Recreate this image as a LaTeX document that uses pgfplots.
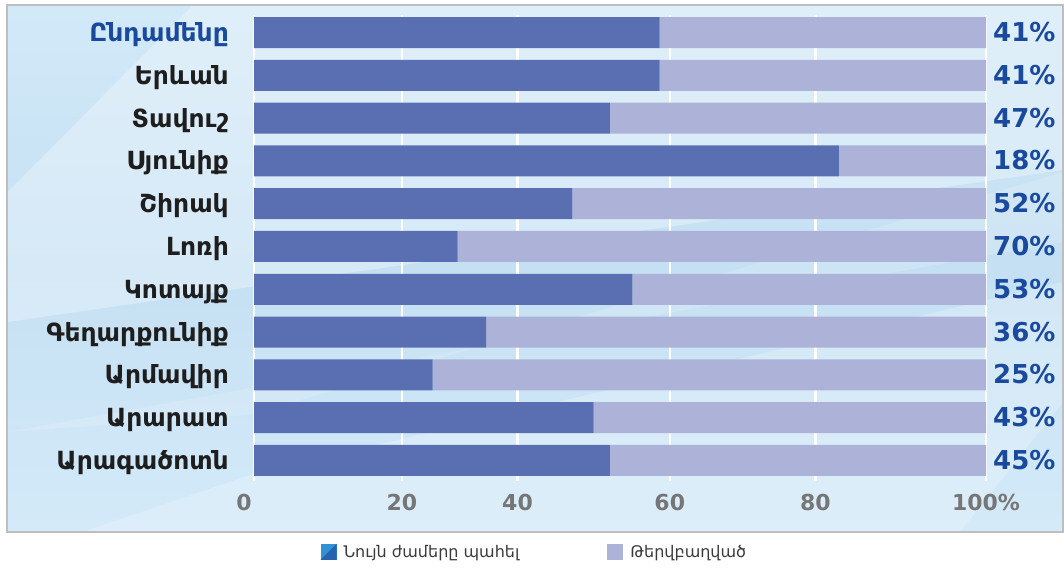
\documentclass[border=0pt]{standalone}
\usepackage{pgfplots}
\pgfplotsset{compat=1.18}
\usepackage{pgfplotstable}
\usepackage{fontspec}
\setmainfont{DejaVu Sans}

\definecolor{darkbar}{RGB}{90,111,178}
\definecolor{lightbar}{RGB}{173,179,216}
\definecolor{labelblue}{RGB}{26,74,158}
\definecolor{tickgray}{RGB}{118,118,118}
\definecolor{catblack}{RGB}{30,30,30}
\definecolor{legtext}{RGB}{58,58,58}
\definecolor{bgtop}{RGB}{210,233,248}
\definecolor{bgmid}{RGB}{197,224,243}
\definecolor{bgbot}{RGB}{212,234,249}
\definecolor{legA}{RGB}{51,145,213}
\definecolor{legB}{RGB}{37,99,175}

% y = row from the bottom (0 = Արագածոտն ... 10 = Ընդամենը)
\pgfplotstableread{
y  dark  light
0  48.6  51.4
1  46.4  53.6
2  24.4  75.6
3  31.7  68.3
4  51.7  48.3
5  27.8  72.2
6  43.5  56.5
7  79.9  20.1
8  48.6  51.4
9  55.4  44.6
10 55.4  44.6
}\shares

\pgfplotsset{
  rowaxis/.style={
    at={(254pt,91pt)}, anchor=south west,
    scale only axis, width=732pt, height=466pt,
    xmin=0, xmax=100, ymin=-0.48, ymax=10.41,
    axis line style={draw=none}, tick style={draw=none},
    ytick={0,...,10},
  }
}

\begin{document}
\begin{tikzpicture}[x=1pt,y=1pt]
\path[use as bounding box] (0,0) rectangle (1064,572);
% background panel
\shade[top color=bgtop, bottom color=bgbot, middle color=bgmid] (7,40) rectangle (1063,567);
\fill[white,opacity=0.30] (7,379) -- (193,567) -- (1063,567) -- (1063,402) -- (7,250) -- cycle;
\fill[white,opacity=0.22] (83,40) -- (250,97) -- (1063,290) -- (1063,170) -- (960,40) -- cycle;
\fill[white,opacity=0.15] (7,140) -- (250,157) -- (1063,400) -- (1063,330) -- cycle;

\begin{axis}[rowaxis,
  xbar stacked, bar width=31pt,
  xtick={20.2,36,56.8,76.7,100},
  xticklabels={20,40,60,80,100\%},
  extra x ticks={0}, extra x tick labels={0},
  extra x tick style={grid=major, xticklabel style={xshift=-10pt}},
  xmajorgrids, major grid style={white, line width=2.5pt},
  xticklabel style={font=\fontsize{22}{26}\selectfont\bfseries, text=tickgray,
    anchor=base, inner sep=0pt, yshift=-30pt},
  /pgf/number format/assume math mode=true,
  yticklabels={Արագածոտն,Արարատ,Արմավիր,Գեղարքունիք,Կոտայք,Լոռի,Շիրակ,
    Սյունիք,Տավուշ,Երևան,{\color{labelblue}Ընդամենը}},
  yticklabel style={font=\fontsize{25}{29}\selectfont\bfseries, text=catblack,
    anchor=base east, inner sep=0pt, xshift=-25pt, yshift=-9pt},
  legend columns=2,
  legend style={at={(0.383,-0.152)}, anchor=center, draw=none, fill=none,
    font=\fontsize{16}{19}\selectfont, text=legtext,
    /tikz/every odd column/.append style={column sep=5pt},
    /tikz/every even column/.append style={column sep=86pt}},
]
\addplot[fill=darkbar, draw=none,
  legend image code/.code={
    \fill[legA] (0pt,-8pt) rectangle (16pt,8pt);
    \fill[legB] (0pt,-8pt) -- (16pt,-8pt) -- (16pt,8pt) -- cycle;}]
  table[x=dark, y=y] {\shares};
\addlegendentry{Նույն ժամերը պահել}
\addplot[fill=lightbar, draw=none,
  legend image code/.code={\fill[lightbar] (0pt,-8pt) rectangle (16pt,8pt);}]
  table[x=light, y=y] {\shares};
\addlegendentry{Թերվբաղված}
\end{axis}

% share labels on the right
\begin{axis}[rowaxis, hide x axis,
  yticklabel pos=right,
  yticklabels={45\%,43\%,25\%,36\%,53\%,70\%,52\%,18\%,47\%,41\%,41\%},
  yticklabel style={font=\fontsize{26}{30}\selectfont\bfseries, text=labelblue,
    anchor=base west, inner sep=0pt, xshift=7pt, yshift=-9pt},
]
\end{axis}

\draw[color={rgb,255:red,190;green,190;blue,190}, line width=1.5pt] (7,40) rectangle (1063,567);
\end{tikzpicture}
\end{document}
